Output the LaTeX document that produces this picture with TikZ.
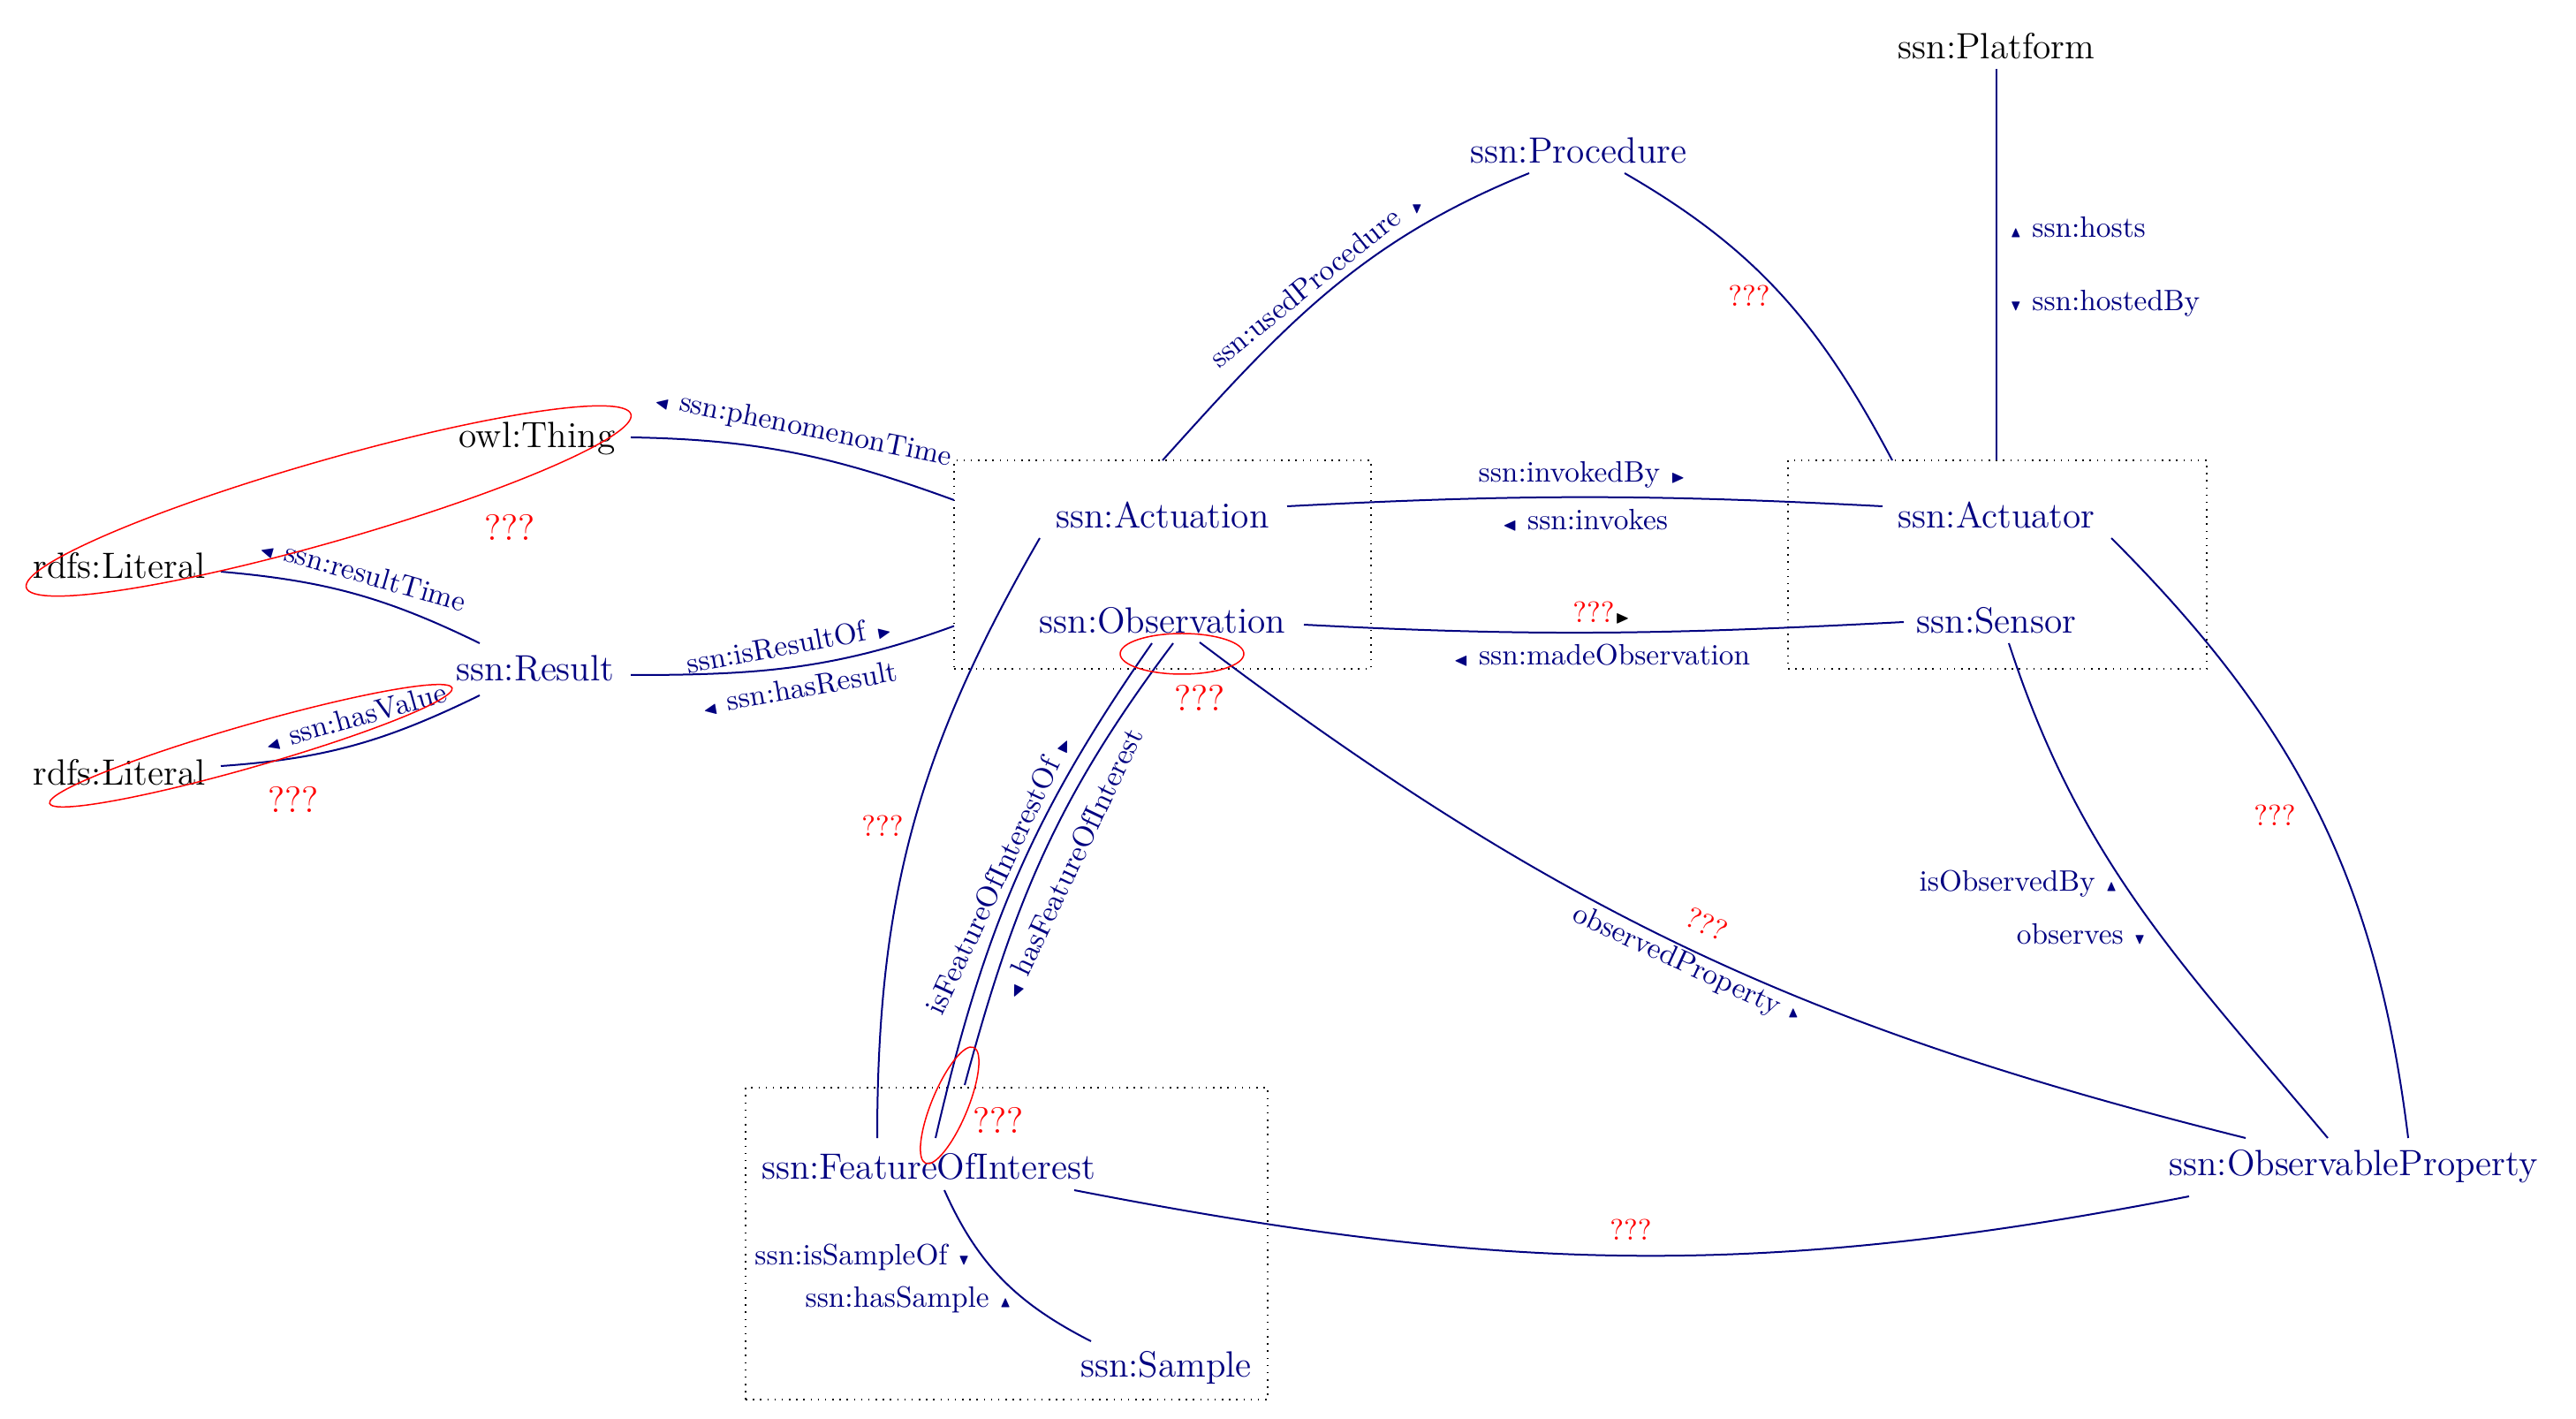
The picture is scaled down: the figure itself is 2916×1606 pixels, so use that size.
\documentclass[tikz,border=0pt]{standalone}
\usepackage{amssymb}
\usetikzlibrary{calc}
\definecolor{navy}{RGB}{0,0,128}
% small direction markers used in the relation labels
\newcommand\triR{{\tiny$\blacktriangleright$}}
\newcommand\triL{{\tiny$\blacktriangleleft$}}
\newcommand\triU{{\tiny$\blacktriangle$}}
\newcommand\triD{{\tiny$\blacktriangledown$}}

\begin{document}
\begin{tikzpicture}[x=0.3pt,y=-0.3pt,
  cls/.style={font=\fontsize{12.4}{14}\selectfont, text=navy, inner sep=0pt},
  ext/.style={cls, text=black},
  rel/.style={font=\fontsize{10}{12}\selectfont, text=navy, inner sep=0pt},
  unk/.style={font=\fontsize{10}{12}\selectfont, text=red, inner sep=0pt},
  bigunk/.style={font=\fontsize{12.4}{14}\selectfont, text=red, inner sep=0pt},
  link/.style={draw=navy, line width=0.6pt},
  group/.style={draw, dotted, line width=0.45pt, inner sep=0pt, outer sep=0pt},
  hilite/.style={draw=red, line width=0.45pt}]
\useasboundingbox (0,0) rectangle (2916,1606);

% grouping boxes
\node[group, minimum width=141.6pt, minimum height=70.8pt] (box1) at (1316,639) {};
\node[group, minimum width=142.2pt, minimum height=70.8pt] (box2) at (2261,639) {};
\node[group, minimum width=177.3pt, minimum height=105.9pt] (box3) at (1139.5,1407.5) {};

% classes
\node[ext] (plat)   at (2260,52)   {ssn:Platform};
\node[cls] (proc)   at (1787,170)  {ssn:Procedure};
\node[ext] (thing)  at (608,496)   {owl:Thing};
\node[ext] (lit1)   at (135,640)   {rdfs:Literal};
\node[cls] (result) at (606,757)   {ssn:Result};
\node[ext] (lit2)   at (135,874)   {rdfs:Literal};
\node[cls] (actn)   at (1316,583)  {ssn:Actuation};
\node[cls] (obs)    at (1316,702)  {ssn:Observation};
\node[cls] (actr)   at (2260,583)  {ssn:Actuator};
\node[cls] (sens)   at (2260,702)  {ssn:Sensor};
\node[cls] (foi)    at (1051,1320) {ssn:FeatureOfInterest};
\node[cls] (sample) at (1320,1548) {ssn:Sample};
\node[cls] (oprop)  at (2664,1320) {ssn:ObservableProperty};

% connectors
\draw[link] ($(plat)+(0,26)$) -- (plat |- box2.north);
\draw[link] ($(proc)+(-56,26)$) to[out=202,in=48] (box1.north);
\draw[link] ($(proc)+(52,26)$) to[out=-30,in=118] ($(box2.north)+(-119,0)$);
\draw[link] ($(thing)+(106,-1)$) to[out=-1,in=160] ($(box1.west)+(0,-73)$);
\draw[link] ($(lit1)+(115,7)$) to[out=-5,in=154] ($(result)+(-63,-29)$);
\draw[link] ($(result)+(108,7)$) to[out=0,in=200] ($(box1.west)+(0,69.5)$);
\draw[link] ($(result)+(-63,30)$) to[out=206,in=4] ($(lit2)+(115,-7)$);
\draw[link] ($(actn)+(141,-10)$) to[out=3,in=177] ($(actr)+(-129,-10)$);
\draw[link] ($(obs)+(160,5)$) to[out=-3,in=183] ($(sens)+(-105,2)$);
\draw[link] ($(actn)+(-139,26)$) to[out=240,in=90] ($(foi)+(-58,-32)$);
\draw[link] ($(obs)+(-12,26)$) to[out=235,in=77] ($(foi)+(8,-32)$);
\draw[link] ($(obs)+(12,26)$) to[out=233,in=75] ($(foi)+(41,-92)$);
\draw[link] ($(obs)+(42,25)$) to[out=-37,in=166] ($(oprop)+(-122,-32)$);
\draw[link] ($(sens)+(14,26)$) to[out=-72,in=130] ($(oprop)+(-29,-32)$);
\draw[link] ($(actr)+(130,26)$) to[out=-45,in=97] ($(oprop)+(62,-32)$);
\draw[link] ($(foi)+(165,27)$) to[out=-11,in=191] ($(oprop)+(-186,34)$);
\draw[link] ($(foi)+(18,27)$) to[out=-66,in=153] ($(sample)+(-85,-30)$);

% relation labels
\node[rel, anchor=west] (lhosts) at (2274,257) {\triU\ ssn:hosts};
\node[rel, anchor=west] (lhostedby) at (2274,343) {\triD\ ssn:hostedBy};
\node[rel, rotate=39] (lused) at (1477,325) {ssn:usedProcedure};
\node[rel] (lusedtri) at (1604,237) {\triD};
\node[unk] (uproc) at (1980,335) {???};
\node[rel, rotate=-11.5] (lphen) at (909,485) {\triL\ ssn:phenomenonTime};
\node[rel, rotate=-16] (lrtime) at (411,649) {\triL\ ssn:resultTime};
\node[rel, rotate=15.5] (lvalue) at (402,812) {\triL\ ssn:hasValue};
\node[rel, rotate=10.5] (lisres) at (893,730) {ssn:isResultOf \triR};
\node[rel, rotate=10] (lhasres) at (905,779) {\triL\ ssn:hasResult};
\node[rel] (linvby) at (1791,537) {ssn:invokedBy \triR};
\node[rel] (linv) at (1794,589) {\triL\ ssn:invokes};
\node[rel, text=black] (lmadeq) at (1813,694) {\textcolor{red}{???}\triR};
\node[rel] (lmade) at (1813,742) {\triL\ ssn:madeObservation};
\node[unk] (uactfoi) at (999,935) {???};
\node[rel, rotate=65] (lisfoi) at (1130,990) {isFeatureOfInterestOf \triR};
\node[rel, rotate=64.5] (lhasfoi) at (1213,977) {\triL\ hasFeatureOfInterest};
\node[rel, rotate=-25] (lobsprop) at (1898,1088) {observedProperty};
\node[rel] (lobsproptri) at (2030,1147) {\triU};
\node[unk, rotate=-25] (uobsprop) at (1932,1046) {???};
\node[rel, anchor=east] (lisobsby) at (2398,1000) {isObservedBy \triU};
\node[rel, anchor=east] (lobserves) at (2430,1057) {observes \triD};
\node[unk] (uactprop) at (2575,923) {???};
\node[unk] (ufoiprop) at (1846,1392) {???};
\node[rel, anchor=east] (lsampleof) at (1099,1423) {ssn:isSampleOf \triD};
\node[rel, anchor=east] (lhassample) at (1146,1471) {ssn:hasSample \triU};

% open questions
\draw[hilite, rotate around={16:(372,567)}] (372,567) ellipse [x radius=106.8pt, y radius=13.8pt];
\node[bigunk] (q1) at (577,597) {???};
\draw[hilite, rotate around={16:(284,844)}] (284,844) ellipse [x radius=71.1pt, y radius=7.2pt];
\node[bigunk] (q2) at (332,905) {???};
\draw[hilite] (1338,740) ellipse [x radius=21pt, y radius=6.9pt];
\node[bigunk] (q3) at (1358,790) {???};
\draw[hilite, rotate around={67.5:(1075,1251)}] (1075,1251) ellipse [x radius=21.3pt, y radius=6.15pt];
\node[bigunk] (q4) at (1130,1268) {???};
\end{tikzpicture}
\end{document}
